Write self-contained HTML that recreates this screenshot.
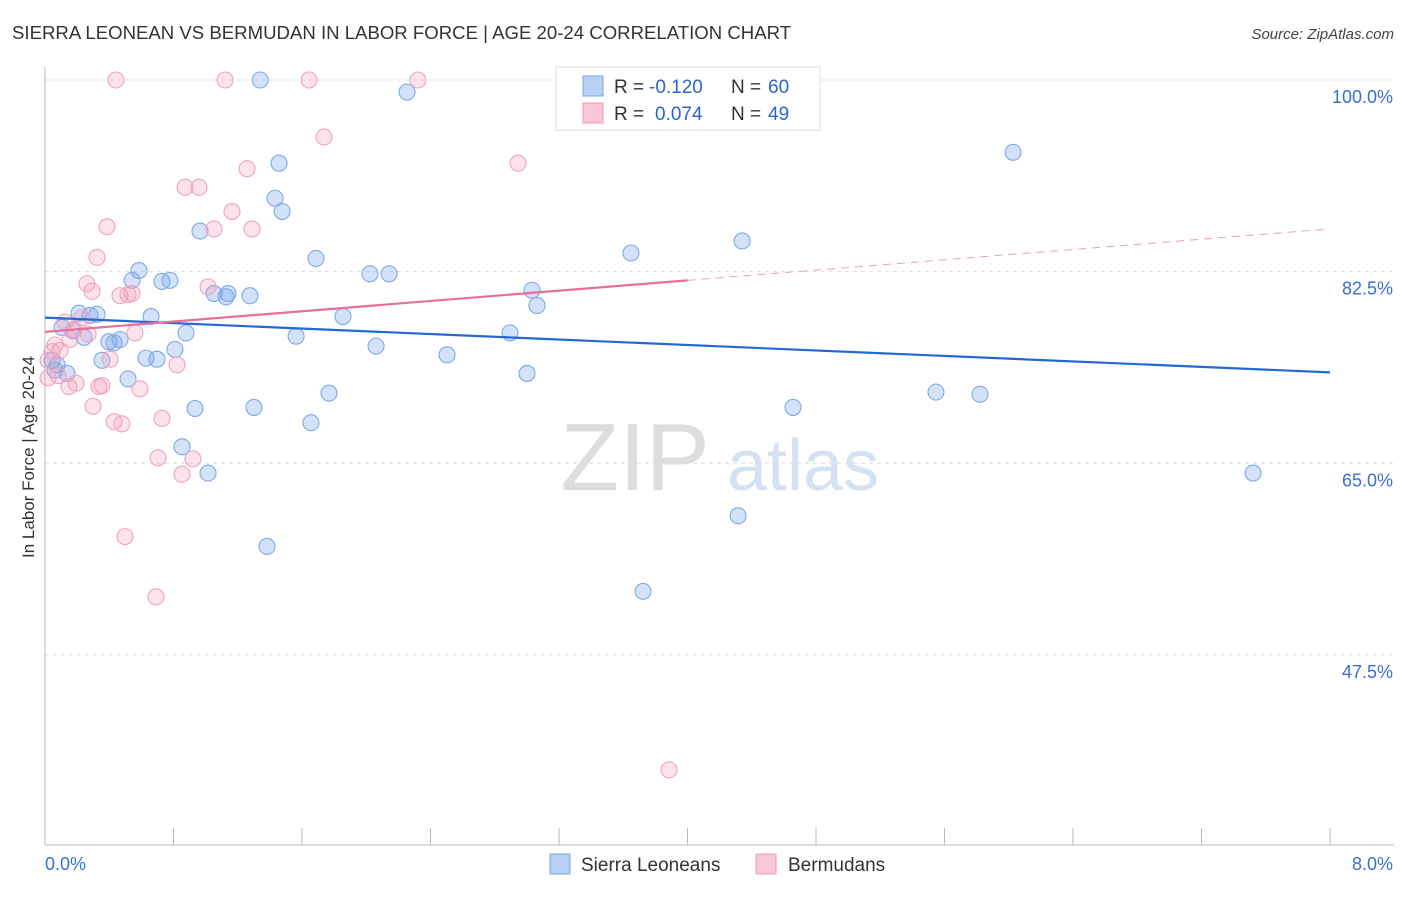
<!DOCTYPE html>
<html><head><meta charset="utf-8"><style>
body{margin:0;background:#fff;font-family:"Liberation Sans",sans-serif;}
svg text{font-family:"Liberation Sans",sans-serif;}
</style></head><body>
<svg id="c" width="1406" height="892" xmlns="http://www.w3.org/2000/svg">
<text x="12" y="39" font-size="18.6" fill="#333">SIERRA LEONEAN VS BERMUDAN IN LABOR FORCE | AGE 20-24 CORRELATION CHART</text>
<text x="1394" y="39" font-size="15" fill="#444" text-anchor="end" font-style="italic">Source: ZipAtlas.com</text>
<text transform="translate(34,457) rotate(-90)" font-size="17" fill="#333" text-anchor="middle">In Labor Force | Age 20-24</text>
<g>
<text x="635" y="490" font-size="96" fill="#ddd" text-anchor="middle" font-family="Liberation Serif">ZIP</text>
<text x="803" y="490" font-size="72" fill="#d4e2f4" text-anchor="middle">atlas</text>
</g>
<g id="grid"></g><g id="axes"></g><g id="pts"></g><g id="lines"></g>
<g>
<rect x="556" y="67" width="264" height="63" fill="#fff" stroke="#ddd"/>
<rect x="583" y="76" width="20" height="20" fill="#b8d0f4" stroke="#7aa6e6"/>
<rect x="583" y="103" width="20" height="20" fill="#f9c6d6" stroke="#ec9ab6"/>
<text x="614" y="93" font-size="19" fill="#333">R =</text>
<text x="649" y="93" font-size="19" fill="#2a66cc">-0.120</text>
<text x="731" y="93" font-size="19" fill="#333">N =</text>
<text x="768" y="93" font-size="19" fill="#2a66cc">60</text>
<text x="614" y="120" font-size="19" fill="#333">R =</text>
<text x="655" y="120" font-size="19" fill="#2a66cc">0.074</text>
<text x="731" y="120" font-size="19" fill="#333">N =</text>
<text x="768" y="120" font-size="19" fill="#2a66cc">49</text>
</g>
<g>
<rect x="550" y="854" width="20" height="20" fill="#b8d0f4" stroke="#7aa6e6"/>
<text x="581" y="871" font-size="19" fill="#333">Sierra Leoneans</text>
<rect x="756" y="854" width="20" height="20" fill="#f9c6d6" stroke="#ec9ab6"/>
<text x="788" y="871" font-size="19" fill="#333">Bermudans</text>
</g>
</svg>
<script>
const yTicks=[100,82.5,65,47.5];
const yTickLabels=["100.0%","82.5%","65.0%","47.5%"];
const xTicks=[0,0.8,1.6,2.4,3.2,4,4.8,5.6,6.4,7.2,8];
const blueX=[1.34,2.254,6.027,1.457,1.432,1.476,0.965,4.34,3.648,1.687,0.585,0.542,0.728,0.778,2.023,2.142,1.052,1.127,1.139,1.276,3.032,3.063,0.212,0.324,0.28,0.66,1.855,0.106,0.174,0.878,1.563,2.895,0.243,0.398,0.467,0.43,2.061,0.809,0.629,0.697,0.355,2.503,0.044,0.075,0.062,0.137,3.001,0.517,1.768,5.547,5.821,0.934,1.301,4.657,1.656,0.853,1.015,7.521,4.315,1.382,3.723];
const blueY=[100,98.9,93.4,92.4,89.2,88,86.2,85.3,84.2,83.7,82.6,81.7,81.6,81.7,82.3,82.3,80.5,80.2,80.5,80.3,80.8,79.4,78.7,78.6,78.5,78.4,78.4,77.4,77.1,76.9,76.6,76.9,76.5,76.1,76.3,76,75.7,75.4,74.6,74.5,74.4,74.9,74.4,74,73.5,73.2,73.2,72.7,71.4,71.5,71.3,70,70.1,70.1,68.7,66.5,64.1,64.1,60.2,57.4,53.3];
const pinkX=[0.442,1.121,1.644,2.322,1.737,2.945,1.258,0.872,0.959,1.164,0.386,1.052,1.289,0.324,0.261,0.293,1.015,0.467,0.542,0.517,0.23,0.125,0.181,0.268,0.56,0.093,0.044,0.405,0.822,0.019,0.081,0.193,0.355,0.336,0.149,0.591,0.299,0.728,0.43,0.479,0.704,0.921,0.853,0.498,0.691,3.885,0.019,0.062,0.156];
const pinkY=[100,100,100,100,94.8,92.4,91.9,90.2,90.2,88,86.6,86.4,86.4,83.8,81.4,80.7,81.1,80.3,80.5,80.4,78.3,77.9,77.2,76.8,76.9,75.3,75.2,74.5,74,72.8,73,72.3,72.1,72,72,71.8,70.2,69.1,68.8,68.6,65.5,65.4,64,58.3,52.8,37,74.4,75.8,76.3];
const blueTrend=[78.3,73.3];
const pinkTrend=[77.0,86.4];
const pinkSolidEnd=4.0;
const NS="http://www.w3.org/2000/svg";
const X=v=>45+v/8*1285, Y=v=>80+(100-v)*10.95;
function mk(t,a,p){const e=document.createElementNS(NS,t);for(const k in a)e.setAttribute(k,a[k]);document.getElementById(p).appendChild(e);return e;}
yTicks.forEach((t,i)=>{
 const g=mk('line',{x1:45,x2:1394,y1:Y(t),y2:Y(t),stroke:'#ddd','stroke-dasharray':'4,4'},'grid');
 
 
 const l=mk('text',{x:1393,y:Y(t)+23,'font-size':18,fill:'#3a6fd0','text-anchor':'end'},'axes');l.textContent=yTickLabels[i];
 
 
});
const ax=mk('line',{x1:45,x2:45,y1:67,y2:845,stroke:'#bbb'},'axes');


const bx=mk('line',{x1:45,x2:1394,y1:845,y2:845,stroke:'#bbb'},'axes');


xTicks.forEach(t=>{const e=mk('line',{x1:X(t),x2:X(t),y1:828,y2:845,stroke:'#bbb'},'axes');
 
 });
let t0=mk('text',{x:45,y:870,'font-size':18,fill:'#3a6fd0'},'axes');t0.textContent='0.0%';


let t1=mk('text',{x:1393,y:870,'font-size':18,fill:'#3a6fd0','text-anchor':'end'},'axes');t1.textContent='8.0%';


blueX.forEach((x,i)=>{const c=mk('circle',{cx:X(x),cy:Y(blueY[i]),r:8,fill:'rgba(110,160,235,0.3)',stroke:'#7ea9e6','stroke-width':1.1},'pts');
 
 });
pinkX.forEach((x,i)=>{const c=mk('circle',{cx:X(x),cy:Y(pinkY[i]),r:8,fill:'rgba(245,160,190,0.3)',stroke:'#eea4bd','stroke-width':1.1},'pts');
 
 });
const bl=mk('line',{x1:X(0),y1:Y(blueTrend[0]),x2:X(8),y2:Y(blueTrend[1]),stroke:'#2468d2','stroke-width':2.2},'lines');


const pm=pinkTrend[0]+(pinkTrend[1]-pinkTrend[0])*pinkSolidEnd/8;
const pl=mk('line',{x1:X(0),y1:Y(pinkTrend[0]),x2:X(pinkSolidEnd),y2:Y(pm),stroke:'#e6709a','stroke-width':2.2},'lines');


const pd=mk('line',{x1:X(pinkSolidEnd),y1:Y(pm),x2:X(8),y2:Y(pinkTrend[1]),stroke:'#e6a0b8','stroke-width':1,'stroke-dasharray':'8,6'},'lines');


</script>
</body></html>
